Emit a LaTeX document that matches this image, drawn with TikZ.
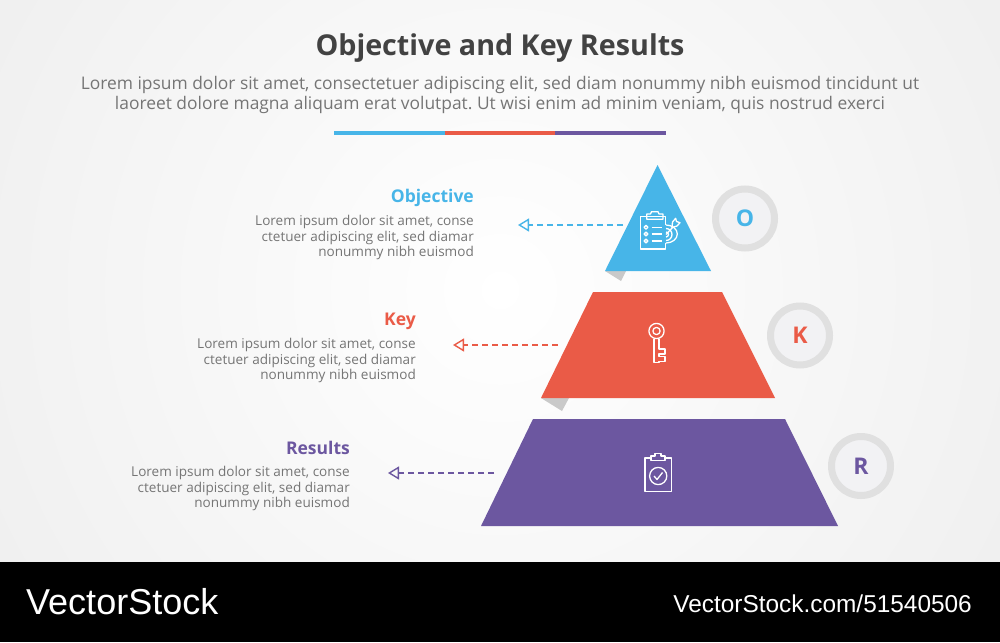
\documentclass[tikz,border=0pt]{standalone}
\usepackage{fontspec}
\setmainfont{Open Sans}
\newfontfamily\wmfont{Liberation Sans}
\usetikzlibrary{arrows.meta}
\definecolor{cblue}{HTML}{47B5E8}
\definecolor{cred}{HTML}{EA5B47}
\definecolor{cpurple}{HTML}{6C57A0}
\definecolor{ctext}{HTML}{757575}
\definecolor{ctitle}{HTML}{424242}
\definecolor{cfold}{HTML}{C9C9C9}
\definecolor{cring}{HTML}{E0E0E0}
\definecolor{cdisc}{HTML}{F2F2F4}
\definecolor{cedge}{HTML}{EEEEEE}
\frenchspacing
\tikzset{
  x=1pt,y=-1pt,
  heading/.style={font=\fontsize{17.5}{20}\selectfont\bfseries,anchor=base east,inner sep=0pt},
  blurb/.style={font=\fontsize{13.55}{15.6}\selectfont,text=ctext,align=right,anchor=north east,inner sep=0pt},
  badge/.style={circle,draw=cring,line width=7pt,fill=cdisc,minimum size=59pt,inner sep=0pt,font=\fontsize{23}{25}\selectfont\bfseries},
  link/.style={dash pattern=on 6pt off 4pt,line width=1.5pt,-{Triangle[open,length=11pt,width=13pt,line width=1.4pt]}},
  fold/.style={fill=cfold,draw=none},
  icon/.style={draw=white,line width=1.3pt,line join=round},
  intro/.style={font=\fontsize{17.4}{20}\selectfont,text=ctext,align=center,inner sep=0pt},
}
\begin{document}
\begin{tikzpicture}
\useasboundingbox (0,0) rectangle (1000,642);
% background
\begin{scope}
\clip (0,0) rectangle (1000,562);
\fill[cedge] (0,0) rectangle (1000,562);
\shade[inner color=white,outer color=cedge] (500,290) circle (640);
\end{scope}
\fill[black] (0,562) rectangle (1000,642);
% title
\node[font=\fontsize{28.7}{32}\selectfont\bfseries,text=ctitle,inner sep=0pt] (title) at (500,48) {Objective and Key Results};
\node[intro] (intro) at (500,95.3) {Lorem ipsum dolor sit amet, consectetuer adipiscing elit, sed diam nonummy nibh euismod tincidunt ut\\laoreet dolore magna aliquam erat volutpat. Ut wisi enim ad minim veniam, quis nostrud exerci};
\fill[cblue] (334,130.5) rectangle (445,134.5);
\fill[cred] (445,130.5) rectangle (555,134.5);
\fill[cpurple] (555,130.5) rectangle (666,134.5);
% folds
\fill[fold] (605,271) -- (621,281) -- (626,271) -- cycle;
\fill[fold] (541,398) -- (562,411) -- (569,398) -- cycle;
% pyramid
\fill[cblue] (657.5,165) -- (711,271) -- (605,271) -- cycle;
\fill[cred] (593,292) -- (722,292) -- (775,398) -- (541,398) -- cycle;
\fill[cpurple] (533,419) -- (785,419) -- (838,526) -- (481,526) -- cycle;
% badges
\node[badge,text=cblue] (o) at (745,218.5) {O};
\node[badge,text=cred] (k) at (800,335.5) {K};
\node[badge,text=cpurple] (r) at (861,466) {R};
% connectors
\coordinate (a1) at (623,225);
\coordinate (t1) at (518,225);
\coordinate (a2) at (558,345);
\coordinate (t2) at (453,345);
\coordinate (a3) at (494,473);
\coordinate (t3) at (388,473);
\draw[link,cblue] (a1) -- (t1);
\draw[link,cred] (a2) -- (t2);
\draw[link,cpurple] (a3) -- (t3);
% texts
\node[heading,text=cblue] (h1) at (474,202) {Objective};
\node[blurb] (b1) at (474,215) {Lorem ipsum dolor sit amet, conse\\ctetuer adipiscing elit, sed diamar\\nonummy nibh euismod};
\node[heading,text=cred] (h2) at (416,325) {Key};
\node[blurb] (b2) at (416,338) {Lorem ipsum dolor sit amet, conse\\ctetuer adipiscing elit, sed diamar\\nonummy nibh euismod};
\node[heading,text=cpurple] (h3) at (350,454) {Results};
\node[blurb] (b3) at (350,466) {Lorem ipsum dolor sit amet, conse\\ctetuer adipiscing elit, sed diamar\\nonummy nibh euismod};
% icon: checklist and target
\begin{scope}[icon]
\draw (665.7,225) -- (665.7,216.7) -- (640.7,216.7) -- (640.7,249) -- (665.7,249) -- (665.7,243);
\draw (646.7,219.3) -- (646.7,214) -- (650.5,214) -- (651.5,211.7) -- (658,211.7) -- (659,214) -- (663,214) -- (663,219.3) -- cycle;
\draw (646,227.3) circle (1.9);
\draw (646,234) circle (1.9);
\draw (646,241) circle (1.9);
\draw (651.7,227.3) -- (662.3,227.3);
\draw (651.7,234) -- (662.3,234);
\draw (651.7,241) -- (662.3,241);
\draw (666,225) arc (-90:90:11.3 and 9);
\draw (666,228.5) arc (-90:90:6);
\draw (666,232) arc (-90:90:2.5);
\draw (666,234.5) -- (673,227);
\draw (672,227.5) -- (672.5,222) -- (675.7,218.3) -- (676.5,221.5) -- (680,222.7) -- (677,226) -- cycle;
\end{scope}
% icon: key
\begin{scope}[icon]
\draw (656.5,331) circle (7.6);
\draw (656.5,331) circle (3.6);
\draw (654,338.8) -- (654,362.3) -- (659,362.3) -- (659,361.5) -- (665,361.5) -- (665,356.5) -- (659,356.5) -- (659,354) -- (665,354) -- (665,349) -- (659,349) -- (659,338.8);
\end{scope}
% icon: clipboard with check
\begin{scope}[icon]
\draw (651,458) -- (645,458) -- (645,491.5) -- (671.5,491.5) -- (671.5,458) -- (665,458);
\draw (651,460.5) -- (651,456) -- (655,456) -- (655,453.5) -- (661,453.5) -- (661,456) -- (665,456) -- (665,460.5) -- cycle;
\draw (658.2,476) circle (8.6);
\draw (654,476) -- (657,479.5) -- (662.5,472.5);
\end{scope}
% watermark
\node[font=\wmfont\fontsize{36}{38}\selectfont,text=white,anchor=base west,inner sep=0pt] (w1) at (26,614) {VectorStock};
\node[font=\wmfont\fontsize{24.4}{26}\selectfont,text=white,anchor=base east,inner sep=0pt] (w2) at (972,612.5) {VectorStock.com/51540506};
\end{tikzpicture}
\end{document}
